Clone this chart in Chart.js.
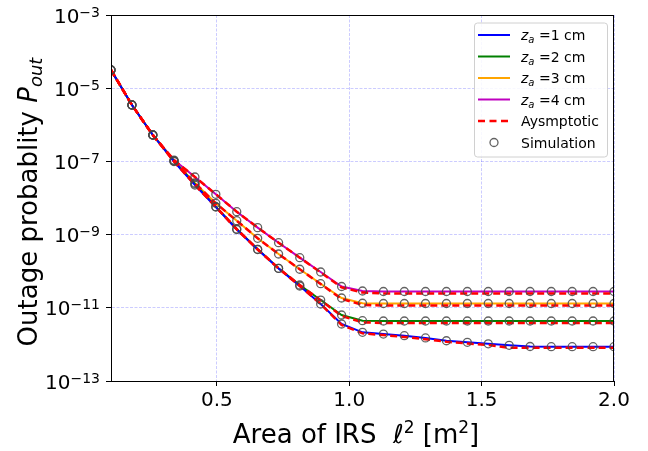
<!DOCTYPE html>
<html>
<head>
<meta charset="utf-8">
<script src="https://cdn.jsdelivr.net/npm/chart.js@4.4.1/dist/chart.umd.min.js"></script>
<style>
  body { margin: 0; background: #fff; }
</style>
</head>
<body>
<canvas id="outageChart" width="648" height="451"></canvas>
<script>
// area of the IRS, l^2 in m^2
const area = [0.1, 0.179, 0.258, 0.338, 0.417, 0.496, 0.575, 0.654, 0.733, 0.813, 0.892, 0.971,
  1.05, 1.129, 1.208, 1.288, 1.367, 1.446, 1.525, 1.604, 1.683, 1.763, 1.842, 1.921, 2.0];

// outage probability, exact curves
const za1 = [3.14e-5, 3.48e-6, 5.26e-7, 9.93e-8, 2.26e-8, 5.68e-9, 1.38e-9, 3.92e-10, 1.19e-10, 3.94e-11, 1.27e-11, 3.61e-12,
  2.14e-12, 1.92e-12, 1.73e-12, 1.50e-12, 1.26e-12, 1.14e-12, 1.04e-12, 9.44e-13, 8.77e-13, 8.65e-13, 8.65e-13, 8.65e-13, 8.65e-13];
const za2 = [3.14e-5, 3.48e-6, 5.26e-7, 1.03e-7, 2.42e-8, 5.78e-9, 1.42e-9, 3.96e-10, 1.20e-10, 4.20e-11, 1.63e-11, 6.35e-12,
  4.45e-12, 4.36e-12, 4.36e-12, 4.36e-12, 4.36e-12, 4.36e-12, 4.36e-12, 4.36e-12, 4.36e-12, 4.36e-12, 4.36e-12, 4.36e-12, 4.36e-12];
const za3 = [3.14e-5, 3.48e-6, 5.26e-7, 1.03e-7, 2.57e-8, 7.16e-9, 2.40e-9, 7.93e-10, 2.95e-10, 1.13e-10, 4.55e-11, 1.85e-11,
  1.33e-11, 1.31e-11, 1.31e-11, 1.31e-11, 1.31e-11, 1.31e-11, 1.31e-11, 1.31e-11, 1.31e-11, 1.31e-11, 1.31e-11, 1.31e-11, 1.31e-11];
const za4 = [3.14e-5, 3.48e-6, 5.26e-7, 1.09e-7, 3.75e-8, 1.26e-8, 4.23e-9, 1.55e-9, 6.01e-10, 2.34e-10, 9.50e-11, 3.82e-11,
  2.88e-11, 2.79e-11, 2.79e-11, 2.79e-11, 2.79e-11, 2.79e-11, 2.79e-11, 2.79e-11, 2.79e-11, 2.79e-11, 2.79e-11, 2.79e-11, 2.79e-11];

// asymptotic curves (red dashed)
const asy1 = [3.14e-5, 3.48e-6, 5.26e-7, 9.93e-8, 2.26e-8, 5.68e-9, 1.38e-9, 3.92e-10, 1.19e-10, 3.94e-11, 1.27e-11, 3.40e-12,
  2.00e-12, 1.80e-12, 1.60e-12, 1.38e-12, 1.18e-12, 1.06e-12, 9.60e-13, 8.10e-13, 8.10e-13, 8.10e-13, 8.10e-13, 8.10e-13, 8.10e-13];
const asy2 = [3.14e-5, 3.48e-6, 5.26e-7, 1.03e-7, 2.42e-8, 5.78e-9, 1.42e-9, 3.96e-10, 1.20e-10, 4.20e-11, 1.60e-11, 6.00e-12,
  4.00e-12, 3.85e-12, 3.85e-12, 3.85e-12, 3.85e-12, 3.85e-12, 3.85e-12, 3.85e-12, 3.85e-12, 3.85e-12, 3.85e-12, 3.85e-12, 3.85e-12];
const asy3 = [3.14e-5, 3.48e-6, 5.26e-7, 1.03e-7, 2.57e-8, 7.16e-9, 2.40e-9, 7.93e-10, 2.95e-10, 1.13e-10, 4.45e-11, 1.75e-11,
  1.20e-11, 1.16e-11, 1.16e-11, 1.16e-11, 1.16e-11, 1.16e-11, 1.16e-11, 1.16e-11, 1.16e-11, 1.16e-11, 1.16e-11, 1.16e-11, 1.16e-11];
const asy4 = [3.14e-5, 3.48e-6, 5.26e-7, 1.09e-7, 3.75e-8, 1.26e-8, 4.23e-9, 1.55e-9, 6.01e-10, 2.34e-10, 9.30e-11, 3.60e-11,
  2.60e-11, 2.46e-11, 2.46e-11, 2.46e-11, 2.46e-11, 2.46e-11, 2.46e-11, 2.46e-11, 2.46e-11, 2.46e-11, 2.46e-11, 2.46e-11, 2.46e-11];

const zaLabels = ['1', '2', '3', '4'];
const xTicks = [0.5, 1.0, 1.5, 2.0];
const yTicks = [1e-13, 1e-11, 1e-9, 1e-7, 1e-5, 1e-3];

const zaColors = ['#0000ff', '#008000', '#ffa500', '#bf00bf'];
const simColor = 'rgba(70,70,70,0.85)';
const FONT = '"DejaVu Sans", sans-serif';

const pts = ys => area.map((x, i) => ({ x: x, y: ys[i] }));
const exact = [za1, za2, za3, za4];
const asym = [asy1, asy2, asy3, asy4];

const datasets = [];
exact.forEach((ys, k) => datasets.push({
  data: pts(ys), borderColor: zaColors[k], borderWidth: 2, pointRadius: 0, order: 3
}));
asym.forEach(ys => datasets.push({
  data: pts(ys), borderColor: '#ff0000', borderWidth: 2.5, borderDash: [7, 4], pointRadius: 0, order: 2
}));
exact.forEach(ys => datasets.push({
  data: pts(ys), showLine: false, pointRadius: 4, pointBorderWidth: 1.3,
  pointBorderColor: simColor, pointBackgroundColor: 'rgba(0,0,0,0)', order: 1
}));

// draws a run of text pieces [text, font, dy] starting at x
function drawRun(ctx, parts, x, y) {
  parts.forEach(p => {
    ctx.font = p[1];
    ctx.fillText(p[0], x, y + (p[2] || 0));
    x += ctx.measureText(p[0]).width;
  });
}
function runWidth(ctx, parts) {
  let w = 0;
  parts.forEach(p => { ctx.font = p[1]; w += ctx.measureText(p[0]).width; });
  return w;
}

const decor = {
  id: 'decor',
  afterDraw(chart) {
    const { ctx, chartArea: a, scales: { y } } = chart;
    ctx.save();
    ctx.fillStyle = '#000';
    ctx.textAlign = 'left';
    ctx.textBaseline = 'alphabetic';

    // frame
    ctx.strokeStyle = '#000';
    ctx.lineWidth = 1;
    ctx.strokeRect(Math.round(a.left) + 0.5, Math.round(a.top) + 0.5,
      Math.round(a.right - a.left) - 1, Math.round(a.bottom - a.top));

    // y tick labels 10^-n
    yTicks.forEach(v => {
      const py = y.getPixelForValue(v);
      const e = '\u2212' + Math.round(-Math.log10(v));
      ctx.font = '14px ' + FONT;
      const we = ctx.measureText(e).width;
      ctx.font = '20px ' + FONT;
      const wb = ctx.measureText('10').width;
      const right = a.left - 11;
      ctx.fillText('10', right - we - wb, py + 7.5);
      ctx.font = '14px ' + FONT;
      ctx.fillText(e, right - we, py + 1.5);
    });

    // x title
    const xt = [
      ['Area of IRS  ', '26px ' + FONT],
      ['\u2113', 'italic 26px ' + FONT],
      ['2', '17px ' + FONT, -10],
      [' [m', '26px ' + FONT],
      ['2', '17px ' + FONT, -10],
      [']', '26px ' + FONT]
    ];
    drawRun(ctx, xt, 356 - runWidth(ctx, xt) / 2, 443);

    // y title
    const yt = [
      ['Outage probablity ', '26px ' + FONT],
      ['P', 'italic 26px ' + FONT],
      ['out', 'italic 18px ' + FONT, 5]
    ];
    ctx.save();
    ctx.translate(37, 202);
    ctx.rotate(-Math.PI / 2);
    drawRun(ctx, yt, -runWidth(ctx, yt) / 2, 0);
    ctx.restore();

    // legend
    const lx = 474, ly = 22.5, lw = 133, lh = 134;
    ctx.beginPath();
    ctx.roundRect(lx + 0.5, ly + 0.5, lw, lh, 3);
    ctx.fillStyle = 'rgba(255,255,255,0.85)';
    ctx.fill();
    ctx.strokeStyle = '#d0d0d0';
    ctx.lineWidth = 1;
    ctx.stroke();
    ctx.fillStyle = '#000';
    const rowY = i => ly + 12.5 + i * 21.5;
    zaColors.forEach((c, k) => {
      const ry = rowY(k);
      ctx.beginPath();
      ctx.strokeStyle = c;
      ctx.lineWidth = 2;
      ctx.moveTo(478, ry); ctx.lineTo(510, ry);
      ctx.stroke();
      drawRun(ctx, [
        ['z', 'italic 14px ' + FONT],
        ['a', 'italic 10px ' + FONT, 3],
        [' =' + zaLabels[k] + ' cm', '14px ' + FONT]
      ], 521, ry + 5);
    });
    let ry = rowY(4);
    ctx.beginPath();
    ctx.strokeStyle = '#ff0000';
    ctx.lineWidth = 2.5;
    ctx.setLineDash([7, 4.5]);
    ctx.moveTo(478, ry); ctx.lineTo(510, ry);
    ctx.stroke();
    ctx.setLineDash([]);
    ctx.font = '14px ' + FONT;
    ctx.fillText('Aysmptotic', 521, ry + 5);
    ry = rowY(5);
    ctx.beginPath();
    ctx.strokeStyle = simColor;
    ctx.lineWidth = 1.3;
    ctx.arc(494, ry, 4, 0, Math.PI * 2);
    ctx.stroke();
    ctx.fillText('Simulation', 521, ry + 5);

    ctx.restore();
  }
};

const gridStyle = {
  color: 'rgba(0,0,255,0.2)',
  lineWidth: 1,
  tickColor: '#000',
  tickLength: 5,
  tickWidth: 1
};

new Chart(document.getElementById('outageChart'), {
  type: 'line',
  data: { datasets: datasets },
  options: {
    responsive: false,
    animation: false,
    events: [],
    layout: { padding: { left: 0, top: 15, right: 34, bottom: 0 } },
    plugins: { legend: { display: false }, tooltip: { enabled: false } },
    scales: {
      x: {
        type: 'linear',
        min: 0.1,
        max: 2.0,
        afterBuildTicks: s => { s.ticks = xTicks.map(v => ({ value: v })); },
        afterFit: s => { s.height = 70; },
        ticks: {
          color: '#000',
          padding: 3,
          font: { family: 'DejaVu Sans', size: 20 },
          callback: v => Number(v).toFixed(1),
          maxRotation: 0,
          autoSkip: false
        },
        grid: gridStyle,
        border: { display: true, color: '#000', width: 1, dash: [3, 1.5] }
      },
      y: {
        type: 'logarithmic',
        min: 1e-13,
        max: 1e-3,
        afterBuildTicks: s => { s.ticks = yTicks.map(v => ({ value: v })); },
        afterFit: s => { s.width = 111; },
        ticks: { display: false },
        grid: gridStyle,
        border: { display: true, color: '#000', width: 1, dash: [3, 1.5] }
      }
    }
  },
  plugins: [decor]
});
</script>
</body>
</html>
